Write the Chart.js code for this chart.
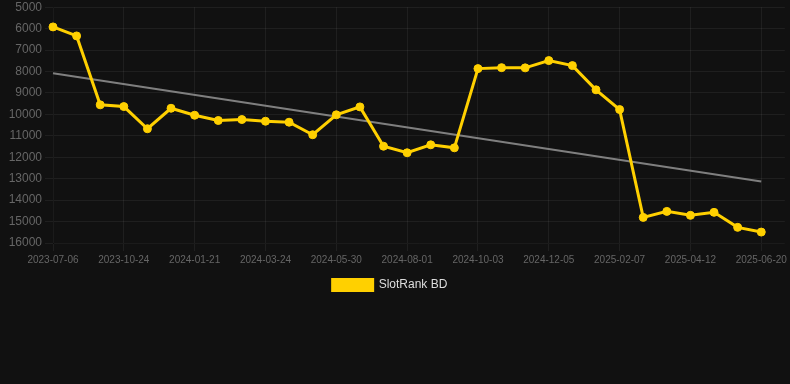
<!DOCTYPE html>
<html>
<head>
<meta charset="utf-8">
<script src="https://cdn.jsdelivr.net/npm/chart.js@4/dist/chart.umd.min.js"></script>
<style>
  html, body { margin: 0; padding: 0; background: #111111; overflow: hidden; }
  #wrap { width: 800px; height: 304px; margin: -3px 0 0 -10px; }
</style>
</head>
<body>
<div id="wrap"><canvas id="rankChart"></canvas></div>
<script>
"use strict";
// dates on the x axis (only every 3rd one shows up after autoskip)
const dates = [
  '2023-07-06', '2023-08-12', '2023-09-18', '2023-10-24', '2023-11-23', '2023-12-22',
  '2024-01-21', '2024-02-11', '2024-03-03', '2024-03-24', '2024-04-15', '2024-05-08',
  '2024-05-30', '2024-06-20', '2024-07-11', '2024-08-01', '2024-08-22', '2024-09-12',
  '2024-10-03', '2024-10-24', '2024-11-14', '2024-12-05', '2024-12-26', '2025-01-17',
  '2025-02-07', '2025-02-28', '2025-03-22', '2025-04-12', '2025-05-05', '2025-05-28',
  '2025-06-20', '2025-07-10'
];
// rank values (lower is better, axis is reversed)
const ranks = [
  5920, 6340, 9555, 9635, 10670, 9715,
  10040, 10285, 10240, 10320, 10365, 10950,
  10020, 9650, 11485, 11790, 11420, 11560,
  7865, 7820, 7830, 7490, 7725, 8855,
  9775, 14805, 14525, 14710, 14570, 15270,
  15490
];
// trend line end points
const trendStart = 8080;
const trendEnd = 13130;
const yTicks = { min: 5000, max: 16000, step: 1000 };

const yellow = 'rgb(255, 208, 0)';
const gridColor = 'rgba(255, 255, 255, 0.06)';
const tickColor = '#666666';

const ctx = document.getElementById('rankChart');

const rankChart = new Chart(ctx, {
  type: 'line',
  data: {
    labels: dates,
    datasets: [{
      label: 'SlotRank BD',
      data: ranks,
      borderColor: yellow,
      backgroundColor: yellow,
      borderWidth: 3,
      pointRadius: 4,
      pointBorderWidth: 1,
      pointBackgroundColor: yellow,
      pointBorderColor: yellow,
      tension: 0,
      order: 0
    },
    {
      label: 'trend',
      data: [
        { x: dates[0], y: trendStart },
        { x: dates[ranks.length - 1], y: trendEnd }
      ],
      borderColor: 'rgba(140, 140, 140, 0.9)',
      borderWidth: 2,
      pointRadius: 0,
      fill: false,
      order: 1
    }]
  },
  options: {
    responsive: true,
    maintainAspectRatio: false,
    animation: false,
    scales: {
      x: {
        grid: { color: gridColor },
        ticks: {
          color: tickColor,
          maxRotation: 0,
          font: { family: 'Arial, "Liberation Sans"', size: 10 }
        }
      },
      y: {
        reverse: true,
        min: yTicks.min,
        max: yTicks.max,
        grid: { color: gridColor },
        afterFit: function (scale) {
          scale.width = 63;
        },
        ticks: {
          stepSize: yTicks.step,
          color: tickColor,
          font: { family: 'Arial, "Liberation Sans"', size: 12 },
          callback: function (value) {
            return String(value);
          }
        }
      }
    },
    plugins: {
      legend: {
        position: 'bottom',
        labels: {
          color: '#dddddd',
          boxHeight: 11,
          font: { family: 'Arial, "Liberation Sans"', size: 12 },
          filter: function (item) {
            return item.text !== 'trend';
          }
        }
      },
      tooltip: { enabled: false }
    }
  }
});
</script>
</body>
</html>
